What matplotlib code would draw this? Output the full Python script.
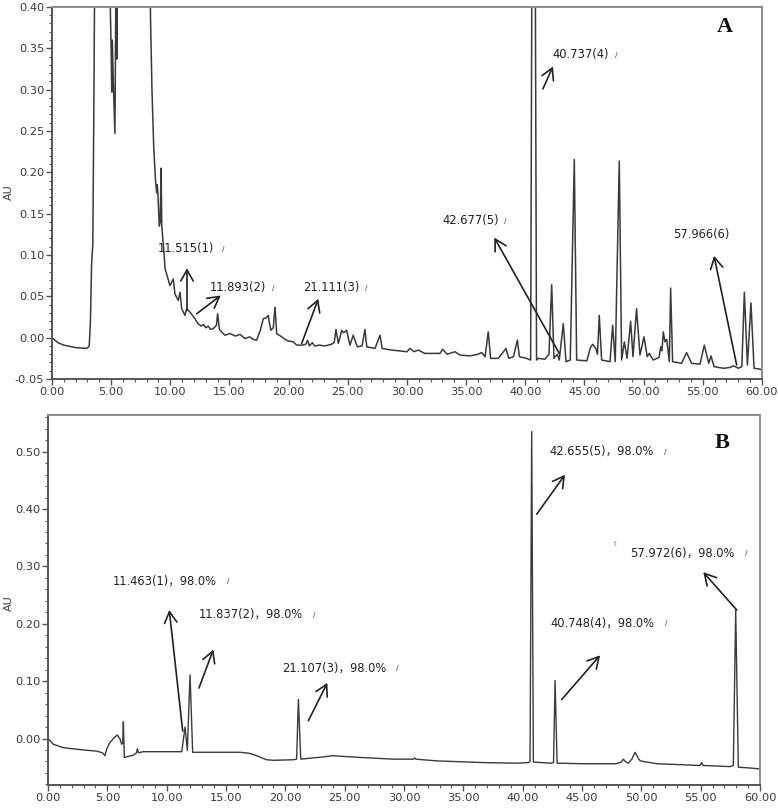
import matplotlib
matplotlib.use("Agg")
import matplotlib.pyplot as plt
from matplotlib.ticker import MultipleLocator, FormatStrFormatter

# ---- chromatogram A (crude sample), time in min, absorbance in AU
t_a = [0.00, 0.5, 1.0, 2.0, 2.95, 3.15, 3.25, 3.35, 3.42, 3.45, 3.55, 3.60,
       4.90, 5.00, 5.05, 5.10, 5.20, 5.32, 5.40, 5.45, 5.48, 5.52,
       8.30, 8.33, 8.45, 8.60, 8.75, 8.85, 8.90, 8.95, 9.07, 9.15, 9.22, 9.28,
       9.50, 9.55, 9.69, 9.97, 10.25, 10.39, 10.67, 10.82, 10.96, 11.24, 11.38,
       11.66, 12.08, 12.34, 12.6, 12.8, 13.0, 13.2, 13.4, 13.63, 13.9, 14.0,
       14.15, 14.4, 14.62, 15.04, 15.5, 15.9, 16.3, 16.7, 17.0, 17.3, 17.6,
       17.86, 18.1, 18.28, 18.35, 18.5, 18.7, 18.85, 18.99, 19.2, 19.41, 19.69,
       19.97, 20.4, 20.68, 21.1, 21.45, 21.6, 21.75, 22.0, 22.2, 22.6, 23.07,
       23.6, 23.85, 24.0, 24.2, 24.4, 24.48, 24.65, 24.9, 25.18, 25.46, 25.8,
       26.2, 26.45, 26.6, 27.3, 27.72, 27.9, 28.7, 29.4, 30.0, 30.25, 30.6,
       30.96, 31.5, 32.2, 32.8, 33.0, 33.4, 34.06, 34.48, 35.33, 36.0, 36.31,
       36.6, 36.87, 37.07, 37.72, 38.37, 38.6, 39.0, 39.33, 39.5, 40.1, 40.45,
       40.55, 40.85, 40.95, 41.1, 41.66, 42.0, 42.23, 42.42, 42.7, 42.87, 43.21,
       43.44, 43.8, 44.14, 44.34, 45.2, 45.5, 45.69, 45.96, 46.1, 46.25, 46.45,
       47.16, 47.38, 47.6, 47.94, 48.14, 48.37, 48.6, 48.9, 49.1, 49.4, 49.69,
       50.03, 50.3, 50.48, 50.8, 51.3, 51.44, 51.55, 51.66, 51.8, 51.95, 52.17,
       52.28, 52.45, 53.21, 53.63, 54.05, 54.76, 55.13, 55.5, 55.69, 55.95,
       56.73, 57.3, 57.6, 58.0, 58.3, 58.51, 58.77, 59.07, 59.33, 59.83, 60.0]
au_a = [0.000, -0.006, -0.009, -0.012, -0.013, -0.010, 0.020, 0.090, 0.105, 0.112, 0.300, 0.420,
        0.420, 0.350, 0.297, 0.360, 0.300, 0.247, 0.420, 0.400, 0.337, 0.420,
        0.420, 0.385, 0.300, 0.230, 0.190, 0.175, 0.185, 0.175, 0.135, 0.140, 0.205, 0.135,
        0.096, 0.084, 0.077, 0.063, 0.071, 0.053, 0.045, 0.055, 0.035, 0.027, 0.035,
        0.031, 0.023, 0.017, 0.014, 0.016, 0.012, 0.014, 0.010, 0.011, 0.015, 0.029,
        0.010, 0.006, 0.003, 0.005, 0.002, 0.004, -0.001, 0.001, -0.002, -0.003, 0.009,
        0.023, 0.024, 0.027, 0.020, 0.009, 0.012, 0.037, 0.005, 0.003, 0.001, -0.002,
        -0.004, -0.005, -0.009, -0.009, -0.008, -0.003, -0.010, -0.006, -0.010, -0.009, -0.010,
        -0.008, -0.006, 0.010, -0.007, 0.004, 0.009, 0.006, 0.009, -0.009, 0.003, -0.011,
        -0.010, 0.010, -0.011, -0.013, 0.003, -0.013, -0.015, -0.016, -0.017, -0.013, -0.017,
        -0.015, -0.019, -0.019, -0.019, -0.014, -0.020, -0.017, -0.021, -0.022, -0.020, -0.018,
        -0.023, 0.007, -0.025, -0.025, -0.013, -0.025, -0.023, -0.003, -0.023, -0.025, -0.027,
        0.420, 0.420, -0.027, -0.025, -0.026, -0.020, 0.064, -0.025, -0.020, -0.027, 0.017,
        -0.029, -0.027, 0.2156, -0.027, -0.028, -0.012, -0.008, -0.013, -0.020, 0.027, -0.027,
        -0.029, 0.015, -0.029, 0.2135, -0.027, -0.005, -0.025, 0.020, -0.023, 0.035, -0.021,
        0.001, -0.023, -0.019, -0.027, -0.024, -0.011, -0.016, 0.007, -0.005, -0.002, -0.029,
        0.060, -0.029, -0.031, -0.018, -0.031, -0.032, -0.009, -0.031, -0.022, -0.035,
        -0.037, -0.036, -0.034, -0.037, -0.035, 0.055, -0.033, 0.042, -0.037, -0.038, -0.039]

# ---- chromatogram B (purified compounds)
t_b = [0.0, 0.45, 1.29, 2.98, 4.1, 4.6, 4.8, 4.95, 5.22, 5.65, 5.84, 6.07, 6.21, 6.30,
       6.35, 6.43, 6.99, 7.19, 7.45, 7.53, 7.62, 8.0, 11.27, 11.55, 11.74, 11.97, 12.19,
       16.2, 17.0, 17.6, 18.4, 19.0, 20.67, 20.95, 21.1, 21.3, 23.2, 24.0, 26.3, 29.1,
       30.8, 30.9, 31.0, 32.75, 36.7, 39.5, 40.48, 40.62, 40.76, 40.90, 42.3, 42.6,
       42.73, 42.90, 45.1, 47.9, 48.3, 48.48, 48.7, 48.9, 49.2, 49.47, 49.7, 49.9,
       51.3, 54.94, 55.09, 55.2, 57.47, 57.75, 57.95, 58.17, 58.9, 60.0]
au_b = [0.000, -0.010, -0.016, -0.020, -0.022, -0.025, -0.030, -0.018, -0.007, 0.003, 0.006,
        -0.001, -0.010, -0.008, 0.029, -0.033, -0.030, -0.029, -0.025, -0.018, -0.025, -0.023,
        -0.023, 0.020, -0.021, 0.111, -0.024, -0.024, -0.026, -0.030, -0.037, -0.038, -0.037,
        -0.036, 0.068, -0.036, -0.032, -0.030, -0.033, -0.036, -0.036, -0.034, -0.036, -0.039,
        -0.042, -0.043, -0.042, -0.040, 0.535, -0.041, -0.043, -0.042, 0.101, -0.043, -0.044,
        -0.044, -0.041, -0.036, -0.041, -0.043, -0.036, -0.024, -0.033, -0.039, -0.044, -0.047,
        -0.042, -0.047, -0.049, -0.047, 0.224, -0.050, -0.051, -0.053]

# peak labels: text, text pos (left, centre), arrow tail, arrow head
labels_a = ["11.515(1)", "11.893(2)", "21.111(3)", "40.737(4)", "42.677(5)", "57.966(6)"]
text_a = [(8.96, 0.1076), (13.35, 0.0607), (21.21, 0.0607), (42.26, 0.342), (32.96, 0.1413), (52.48, 0.1245)]
mark_a = [(14.5, 0.1076), (18.7, 0.0607), (26.6, 0.0607), (47.7, 0.342), (38.3, 0.1413), None]
tail_a = [(11.41, 0.033), (12.23, 0.029), (21.1, -0.007), (41.49, 0.301), (42.87, -0.019), (57.86, -0.033)]
head_a = [(11.41, 0.084), (14.26, 0.051), (22.51, 0.047), (42.34, 0.328), (37.38, 0.121), (55.95, 0.099)]

labels_b = ["11.463(1)，98.0%", "11.837(2)，98.0%", "21.107(3)，98.0%",
            "40.748(4)，98.0%", "42.655(5)，98.0%", "57.972(6)，98.0%"]
text_b = [(5.48, 0.274), (12.67, 0.216), (19.69, 0.123), (42.36, 0.2007), (42.25, 0.500), (49.05, 0.3235)]
mark_b = [(15.2, 0.274), (22.4, 0.216), (29.4, 0.123), (52.1, 0.2007), (52.0, 0.500), (58.8, 0.3235)]
tail_b = [(11.35, 0.013), (12.72, 0.088), (21.94, 0.031), (43.29, 0.068), (41.18, 0.391), (58.04, 0.224)]
head_b = [(10.22, 0.224), (13.93, 0.155), (23.54, 0.097), (46.52, 0.145), (43.57, 0.460), (55.22, 0.290)]

fig = plt.figure(figsize=(7.78, 8.08), dpi=100)
ax1 = fig.add_axes([0.0668, 0.5309, 0.9126, 0.4605])
ax2 = fig.add_axes([0.0617, 0.0285, 0.9152, 0.4579])

lab_font = ['DejaVu Sans', 'Noto Sans CJK SC']


def style(ax, ymaj, ymin):
    for s in ax.spines.values():
        s.set_color('#8a8a8a')
        s.set_linewidth(1.4)
    ax.spines['left'].set_color('#555555')
    ax.spines['bottom'].set_color('#555555')
    ax.set_xlim(0, 60)
    ax.xaxis.set_major_locator(MultipleLocator(5))
    ax.xaxis.set_minor_locator(MultipleLocator(1))
    ax.yaxis.set_major_locator(MultipleLocator(ymaj))
    ax.yaxis.set_minor_locator(MultipleLocator(ymin))
    ax.xaxis.set_major_formatter(FormatStrFormatter('%.2f'))
    ax.yaxis.set_major_formatter(FormatStrFormatter('%.2f'))
    ax.tick_params(which='both', direction='out', color='#555555', labelcolor='#3a3a3a',
                   labelsize=8.2, top=False, right=False)
    ax.tick_params(which='major', length=4, width=1)
    ax.tick_params(which='minor', length=2.5, width=0.8)
    ax.tick_params(axis='x', which='major', pad=1.5)
    ax.tick_params(axis='y', which='major', pad=1.5)


def annotate(ax, labels, text, marks, tails, heads):
    for lab, tp, mk, tl, hd in zip(labels, text, marks, tails, heads):
        ax.text(tp[0], tp[1], lab, ha='left', va='center', fontsize=8.3,
                color='#222222', family=lab_font)
        if mk is not None:
            ax.text(mk[0], mk[1], '/', ha='center', va='center', fontsize=5,
                    color='#2f63d0', fontweight='bold')
        ax.annotate('', xy=hd, xytext=tl,
                    arrowprops=dict(arrowstyle='->,head_length=0.8,head_width=0.45',
                                    color='#222222', lw=1.2, shrinkA=0, shrinkB=0))


ax1.plot(t_a, au_a, color='#3a3a3a', lw=1.1)
ax1.set_ylim(-0.05, 0.40)
style(ax1, 0.05, 0.01)
annotate(ax1, labels_a, text_a, mark_a, tail_a, head_a)
ax1.text(56.87, 0.376, 'A', fontsize=16, fontweight='bold', family='Liberation Serif',
         ha='center', va='center', color='#111111')

ax2.plot(t_b, au_b, color='#3a3a3a', lw=1.0)
ax2.set_ylim(-0.081, 0.564)
style(ax2, 0.10, 0.02)
annotate(ax2, labels_b, text_b, mark_b, tail_b, head_b)
ax2.text(47.78, 0.339, 't', fontsize=5, color='#777777', ha='center', va='center')
ax2.text(56.77, 0.515, 'B', fontsize=16, fontweight='bold', family='Liberation Serif',
         ha='center', va='center', color='#111111')

# y axis titles sit close to the figure edge
fig.text(9 / 778, 1 - 192 / 808, 'AU', rotation=90, ha='center', va='center',
         fontsize=8, color='#3a3a3a')
fig.text(9 / 778, 1 - 603 / 808, 'AU', rotation=90, ha='center', va='center',
         fontsize=8, color='#3a3a3a')

fig.savefig('out.png', dpi=100)
